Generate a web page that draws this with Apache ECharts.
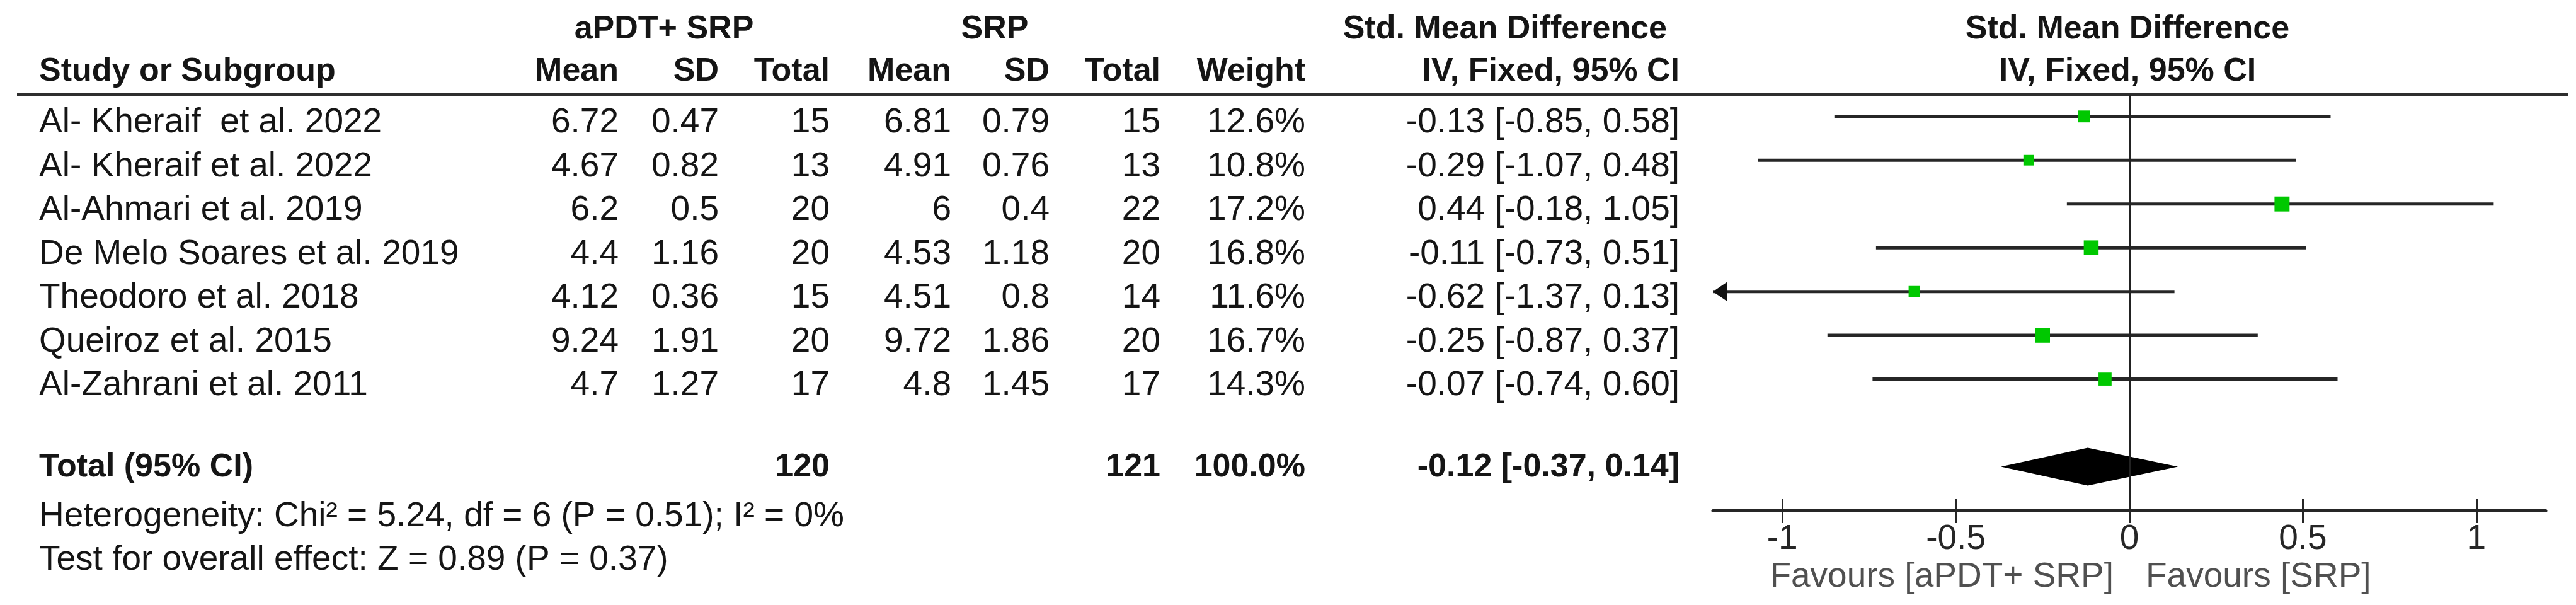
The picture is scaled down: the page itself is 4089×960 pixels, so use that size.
<!DOCTYPE html>
<html>
<head>
<meta charset="utf-8">
<script src="https://cdn.jsdelivr.net/npm/echarts@6/dist/echarts.min.js"></script>
<style>
html,body{margin:0;padding:0;background:#ffffff;}
#c{width:4089px;height:960px;}
</style>
</head>
<body>
<div id="c"></div>
<script>
// ---------- data ----------
const studies = [
  'Al- Kheraif  et al. 2022',
  'Al- Kheraif et al. 2022',
  'Al-Ahmari et al. 2019',
  'De Melo Soares et al. 2019',
  'Theodoro et al. 2018',
  'Queiroz et al. 2015',
  'Al-Zahrani et al. 2011'
];
const expMean  = [6.72, 4.67, 6.2, 4.4, 4.12, 9.24, 4.7];
const expSD    = [0.47, 0.82, 0.5, 1.16, 0.36, 1.91, 1.27];
const expTotal = [15, 13, 20, 20, 15, 20, 17];
const ctlMean  = [6.81, 4.91, 6, 4.53, 4.51, 9.72, 4.8];
const ctlSD    = [0.79, 0.76, 0.4, 1.18, 0.8, 1.86, 1.45];
const ctlTotal = [15, 13, 22, 20, 14, 20, 17];
const weights  = [12.6, 10.8, 17.2, 16.8, 11.6, 16.7, 14.3];
const smd      = [-0.13, -0.29, 0.44, -0.11, -0.62, -0.25, -0.07];
const ciLow    = [-0.85, -1.07, -0.18, -0.73, -1.37, -0.87, -0.74];
const ciHigh   = [0.58, 0.48, 1.05, 0.51, 0.13, 0.37, 0.60];

const totalExp = 120;
const totalCtl = 121;
const totalWeight = 100.0;
const pooledSmd = -0.12;
const pooledLow = -0.37;
const pooledHigh = 0.14;

const heterogeneityText = 'Heterogeneity: Chi\u00B2 = 5.24, df = 6 (P = 0.51); I\u00B2 = 0%';
const overallText = 'Test for overall effect: Z = 0.89 (P = 0.37)';
const expLabel = 'aPDT+ SRP';
const ctlLabel = 'SRP';
const favoursLeft = 'Favours [aPDT+ SRP]';
const favoursRight = 'Favours [SRP]';

const xTicks = [-1, -0.5, 0, 0.5, 1];
const X_MIN = -1.2, X_MAX = 1.2;

// ---------- layout ----------
const FONT_FAMILY = '"Liberation Sans", Arial, sans-serif';
const FS_BOLD = 52;
const FS_REG = 55;
const TXT = '#151515';
const col = {study: 62, eMean: 982, eSD: 1141, eTot: 1317, cMean: 1510, cSD: 1666, cTot: 1842, w: 2072, ci: 2666};
const head1Y = 47, head2Y = 114;
const row0Y = 195, rowPitch = 69.5;
const totalY = 742, hetY = 820, testY = 889, favY = 916;
const TOTAL_ROW = 8;

function txt(str, x, y, align, bold, color) {
  return {
    type: 'text', x: x, y: y, silent: true, z: 10,
    style: {
      text: str, textAlign: align, verticalAlign: 'middle', textVerticalAlign: 'middle',
      font: (bold ? 'bold ' + FS_BOLD : FS_REG) + 'px ' + FONT_FAMILY,
      fill: color || TXT
    }
  };
}
function fmtCI(e, l, h) { return e.toFixed(2) + ' [' + l.toFixed(2) + ', ' + h.toFixed(2) + ']'; }

const graphics = [];
// header rule
graphics.push({type: 'line', silent: true, shape: {x1: 27, y1: 150, x2: 4077, y2: 150},
  style: {stroke: '#2e2e2e', lineWidth: 5}});
// header texts
graphics.push(txt(expLabel, 1054, head1Y, 'center', true));
graphics.push(txt(ctlLabel, 1579, head1Y, 'center', true));
graphics.push(txt('Std. Mean Difference', 2646, head1Y, 'right', true));
graphics.push(txt('Study or Subgroup', col.study, head2Y, 'left', true));
graphics.push(txt('Mean', col.eMean, head2Y, 'right', true));
graphics.push(txt('SD', col.eSD, head2Y, 'right', true));
graphics.push(txt('Total', col.eTot, head2Y, 'right', true));
graphics.push(txt('Mean', col.cMean, head2Y, 'right', true));
graphics.push(txt('SD', col.cSD, head2Y, 'right', true));
graphics.push(txt('Total', col.cTot, head2Y, 'right', true));
graphics.push(txt('Weight', col.w, head2Y, 'right', true));
graphics.push(txt('IV, Fixed, 95% CI', col.ci, head2Y, 'right', true));
graphics.push(txt('Std. Mean Difference', 3377, head1Y, 'center', true));
graphics.push(txt('IV, Fixed, 95% CI', 3377, head2Y, 'center', true));
// rows
studies.forEach(function (s, i) {
  const y = row0Y + rowPitch * i;
  graphics.push(txt(s, col.study, y, 'left', false));
  graphics.push(txt(String(expMean[i]), col.eMean, y, 'right', false));
  graphics.push(txt(String(expSD[i]), col.eSD, y, 'right', false));
  graphics.push(txt(String(expTotal[i]), col.eTot, y, 'right', false));
  graphics.push(txt(String(ctlMean[i]), col.cMean, y, 'right', false));
  graphics.push(txt(String(ctlSD[i]), col.cSD, y, 'right', false));
  graphics.push(txt(String(ctlTotal[i]), col.cTot, y, 'right', false));
  graphics.push(txt(weights[i].toFixed(1) + '%', col.w, y, 'right', false));
  graphics.push(txt(fmtCI(smd[i], ciLow[i], ciHigh[i]), col.ci, y, 'right', false));
});
// total row
graphics.push(txt('Total (95% CI)', col.study, totalY, 'left', true));
graphics.push(txt(String(totalExp), col.eTot, totalY, 'right', true));
graphics.push(txt(String(totalCtl), col.cTot, totalY, 'right', true));
graphics.push(txt(totalWeight.toFixed(1) + '%', col.w, totalY, 'right', true));
graphics.push(txt(fmtCI(pooledSmd, pooledLow, pooledHigh), col.ci, totalY, 'right', true));
graphics.push(txt(heterogeneityText, col.study, hetY, 'left', false));
graphics.push(txt(overallText, col.study, testY, 'left', false));

const chart = echarts.init(document.getElementById('c'), null, {renderer: 'canvas'});

const studyData = studies.map(function (s, i) { return [smd[i], ciLow[i], ciHigh[i], i, weights[i]]; });
const gridBox = {left: 2719, width: 1322, top: 150, height: 660, containLabel: false};

const option = {
  animation: false,
  backgroundColor: '#ffffff',
  grid: [Object.assign({}, gridBox), Object.assign({}, gridBox)],
  xAxis: [
    {
      type: 'value', gridIndex: 0, min: X_MIN, max: X_MAX, position: 'bottom',
      splitLine: {show: false},
      axisLine: {show: true, onZero: false, lineStyle: {color: '#262626', width: 5}},
      axisTick: {show: true, customValues: xTicks, length: 20, inside: false, lineStyle: {color: '#262626', width: 3}},
      axisLabel: {show: true, customValues: xTicks, margin: 18, fontSize: FS_REG, fontFamily: FONT_FAMILY, color: '#262626',
        formatter: function (v) { return String(v); }}
    },
    {
      type: 'value', gridIndex: 1, min: X_MIN, max: X_MAX, position: 'bottom',
      splitLine: {show: false},
      axisLine: {show: false, onZero: false},
      axisTick: {show: true, customValues: xTicks, length: 18, inside: true, lineStyle: {color: '#262626', width: 3}},
      axisLabel: {show: false}
    }
  ],
  yAxis: [
    {type: 'value', gridIndex: 0, min: -0.5, max: 9, inverse: true, show: false},
    {type: 'value', gridIndex: 1, min: -0.5, max: 9, inverse: true, show: false}
  ],
  series: [
    {
      type: 'custom', name: 'studies', xAxisIndex: 0, yAxisIndex: 0, clip: false, z: 3,
      data: studyData,
      renderItem: function (params, api) {
        const est = api.value(0), lo = api.value(1), hi = api.value(2), row = api.value(3), w = api.value(4);
        const loC = Math.max(lo, X_MIN), hiC = Math.min(hi, X_MAX);
        const a = api.coord([loC, row]), b = api.coord([hiC, row]), c = api.coord([est, row]);
        const s = 1.1 * w + 5;
        const children = [];
        children.push({type: 'line', shape: {x1: a[0], y1: a[1], x2: b[0], y2: b[1]},
          style: {stroke: '#262626', lineWidth: 5}});
        if (lo < X_MIN) {
          children.push({type: 'polygon', shape: {points: [[a[0], a[1]], [a[0] + 22, a[1] - 15], [a[0] + 22, a[1] + 15]]},
            style: {fill: '#111111'}});
        }
        if (hi > X_MAX) {
          children.push({type: 'polygon', shape: {points: [[b[0], b[1]], [b[0] - 22, b[1] - 15], [b[0] - 22, b[1] + 15]]},
            style: {fill: '#111111'}});
        }
        children.push({type: 'rect', shape: {x: c[0] - s / 2, y: c[1] - s / 2, width: s, height: s},
          style: {fill: '#00c800'}});
        return {type: 'group', children: children};
      },
      markLine: {
        silent: true, symbol: ['none', 'none'], label: {show: false},
        lineStyle: {color: '#222222', width: 3, type: 'solid'},
        data: [{xAxis: 0}]
      }
    },
    {
      type: 'custom', name: 'pooled', xAxisIndex: 0, yAxisIndex: 0, clip: false, z: 4,
      data: [[pooledSmd, pooledLow, pooledHigh, TOTAL_ROW]],
      renderItem: function (params, api) {
        const est = api.value(0), lo = api.value(1), hi = api.value(2), row = api.value(3);
        const l = api.coord([lo, row]), r = api.coord([hi, row]), m = api.coord([est, row]);
        const h = 30;
        return {type: 'polygon', shape: {points: [[l[0], l[1]], [m[0], m[1] - h], [r[0], r[1]], [m[0], m[1] + h]]},
          style: {fill: '#000000'}};
      }
    }
  ],
  graphic: graphics
};
chart.setOption(option);

// favours labels placed around the zero line of the x axis
const zeroPx = chart.convertToPixel({xAxisIndex: 0}, 0);
chart.setOption({graphic: graphics.concat([
  txt(favoursLeft, zeroPx - 25, favY, 'right', false, '#505050'),
  txt(favoursRight, zeroPx + 26, favY, 'left', false, '#505050')
])});
</script>
</body>
</html>
